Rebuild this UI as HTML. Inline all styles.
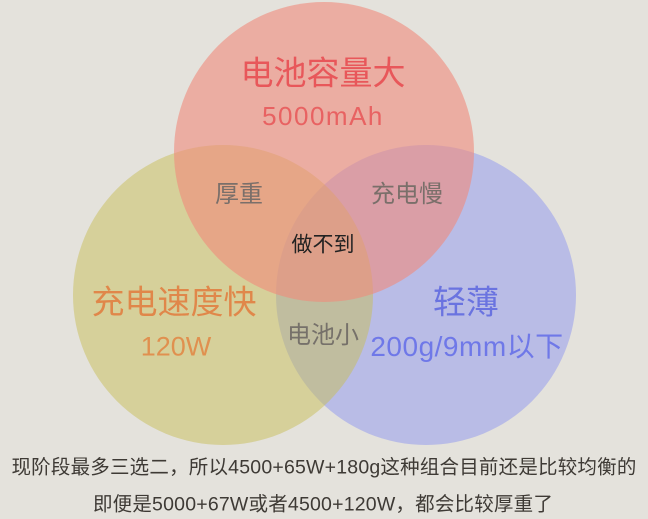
<!DOCTYPE html>
<html><head><meta charset="utf-8"><style>
html,body{margin:0;padding:0;background:#e4e2dc;}
body{width:648px;height:519px;overflow:hidden;position:relative;font-family:"Liberation Sans","Noto Sans CJK SC",sans-serif;}
svg{position:absolute;left:0;top:0;}
.t{position:absolute;white-space:nowrap;transform:translate(-50%,-50%);line-height:1;}
</style></head><body>
<svg width="648" height="519">
<circle cx="426" cy="295" r="150" fill="rgb(142,150,240)" fill-opacity="0.5"/>
<circle cx="223" cy="295" r="150" fill="rgb(200,190,88)" fill-opacity="0.5"/>
<circle cx="324" cy="152" r="150" fill="rgb(240,138,123)" fill-opacity="0.6"/>
</svg>
<div class="t" style="left:323px;top:73px;font-size:33px;color:#e8575a;">电池容量大</div>
<div class="t" style="left:323px;top:116px;font-size:26px;color:#e86262;letter-spacing:1.5px;">5000mAh</div>
<div class="t" style="left:239px;top:195px;font-size:24px;color:#7a6f6a;">厚重</div>
<div class="t" style="left:407px;top:195px;font-size:24px;color:#7a6f6a;">充电慢</div>
<div class="t" style="left:323px;top:245px;font-size:21px;color:#222;">做不到</div>
<div class="t" style="left:174px;top:302px;font-size:33px;color:#e0874a;">充电速度快</div>
<div class="t" style="left:176px;top:347px;font-size:27px;color:#e0904f;">120W</div>
<div class="t" style="left:323px;top:336px;font-size:24px;color:#76716a;">电池小</div>
<div class="t" style="left:466px;top:302px;font-size:33px;color:#6a73e0;">轻薄</div>
<div class="t" style="left:467px;top:347px;font-size:28px;color:#6f78e8;letter-spacing:0.5px;">200g/9mm以下</div>
<div class="t" style="left:324px;top:468px;font-size:19.5px;color:#3e3a35;letter-spacing:0.2px;">现阶段最多三选二，所以4500+65W+180g这种组合目前还是比较均衡的</div>
<div class="t" style="left:323px;top:505px;font-size:19.5px;color:#3e3a35;letter-spacing:0.2px;">即便是5000+67W或者4500+120W，都会比较厚重了</div>
</body></html>
